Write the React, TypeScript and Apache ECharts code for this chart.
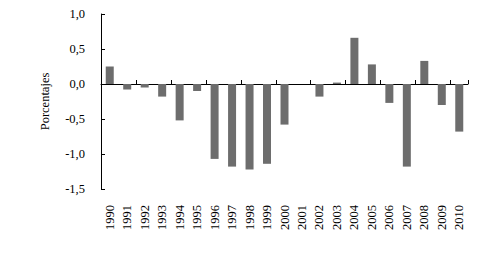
import React, { useEffect, useRef } from "react";
import * as echarts from "echarts";

const years = ["1990","1991","1992","1993","1994","1995","1996","1997","1998","1999","2000","2001","2002","2003","2004","2005","2006","2007","2008","2009","2010"];
const values = [0.25,-0.08,-0.05,-0.18,-0.52,-0.1,-1.07,-1.18,-1.22,-1.14,-0.58,0,-0.18,0.02,0.66,0.28,-0.27,-1.18,0.33,-0.3,-0.68];
const yTicks = { min: -1.5, max: 1.0, interval: 0.5 };

export default function App() {
  const ref = useRef<HTMLDivElement>(null);
  useEffect(() => {
    if (!ref.current) return;
    const chart = echarts.init(ref.current, null, { renderer: "svg" });
    const font = "Liberation Serif";
    chart.setOption({
      animation: false,
      backgroundColor: "#ffffff",
      grid: { left: 101, top: 14, right: 31, bottom: 71, containLabel: false },
      xAxis: [
        {
          type: "category",
          data: years,
          position: "bottom",
          axisLine: { onZero: true, lineStyle: { color: "#000", width: 1 } },
          axisTick: { show: true, inside: true, length: 4, lineStyle: { color: "#000" } },
          axisLabel: { show: false },
          splitLine: { show: false },
        },
        {
          type: "category",
          data: years,
          position: "bottom",
          axisLine: { show: false, onZero: false },
          axisTick: { show: false },
          axisLabel: { show: true, rotate: 90, margin: 16, fontFamily: font, fontSize: 12.5, color: "#000", interval: 0 },
          splitLine: { show: false },
        },
      ],
      yAxis: {
        type: "value",
        min: yTicks.min,
        max: yTicks.max,
        interval: yTicks.interval,
        name: "Porcentajes",
        nameLocation: "middle",
        nameGap: 50,
        nameTextStyle: { fontFamily: font, fontSize: 12.5, color: "#000" },
        axisLine: { show: true, lineStyle: { color: "#000", width: 1 } },
        axisTick: { show: true, inside: true, length: 4, lineStyle: { color: "#000" } },
        axisLabel: {
          fontFamily: font,
          fontSize: 12.5,
          color: "#000",
          margin: 16,
          formatter: (v: number) => v.toFixed(1).replace(".", ","),
        },
        splitLine: { show: false },
      },
      series: [
        {
          type: "bar",
          data: values,
          xAxisIndex: 0,
          barWidth: 8,
          itemStyle: { color: "#6d6d6d" },
        },
      ],
    });
    return () => chart.dispose();
  }, []);
  return <div ref={ref} style={{ width: 499, height: 260, position: "absolute", left: 0, top: 0 }} />;
}
